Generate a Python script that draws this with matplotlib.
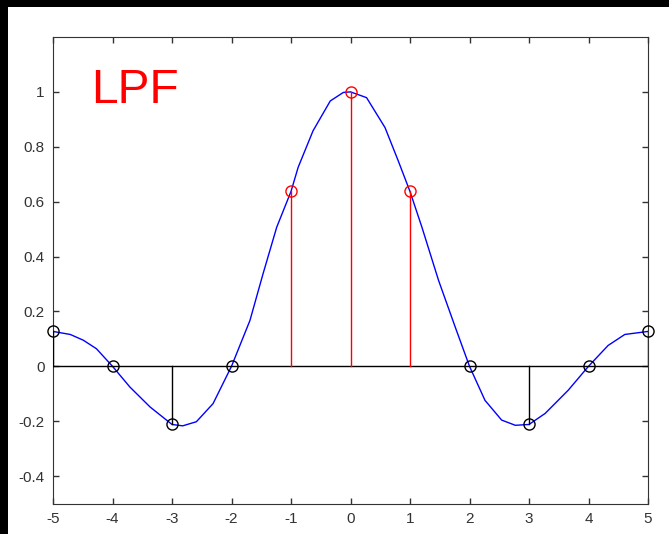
import matplotlib.pyplot as plt
from matplotlib.patches import Rectangle

# sample points (stems)
n = [-5, -4, -3, -2, -1, 0, 1, 2, 3, 4, 5]
h = [0.127, 0.0, -0.212, 0.0, 0.637, 1.0, 0.637, 0.0, -0.212, 0.0, 0.127]
passband = [-1, 0, 1]

# blue reconstructed curve
curve_x = [-5.0, -4.71, -4.49, -4.27, -4.0, -3.71, -3.37, -3.0, -2.82, -2.59,
           -2.31, -2.0, -1.69, -1.47, -1.24, -1.0, -0.88, -0.63, -0.34, -0.12,
           0.0, 0.27, 0.58, 0.80, 1.0, 1.20, 1.48, 1.76, 2.0, 2.26,
           2.54, 2.77, 3.0, 3.27, 3.66, 4.0, 4.33, 4.61, 5.0]
curve_y = [0.127, 0.116, 0.095, 0.064, 0.0, -0.075, -0.148, -0.212, -0.217, -0.202,
           -0.136, 0.0, 0.167, 0.337, 0.507, 0.637, 0.725, 0.858, 0.967, 0.998,
           1.0, 0.979, 0.87, 0.75, 0.637, 0.507, 0.313, 0.143, 0.0, -0.124,
           -0.196, -0.215, -0.212, -0.172, -0.087, 0.0, 0.076, 0.116, 0.127]

xticks = [-5, -4, -3, -2, -1, 0, 1, 2, 3, 4, 5]
yticks = [-0.4, -0.2, 0, 0.2, 0.4, 0.6, 0.8, 1]

plt.rcParams['font.family'] = ['Liberation Sans', 'DejaVu Sans']

fig = plt.figure(figsize=(6.69, 5.34), dpi=100, facecolor='white')
# black frame on the left and top edges
fig.patches.append(Rectangle((0, 0), 8 / 669, 1, transform=fig.transFigure,
                             facecolor='black', edgecolor='none', zorder=-5))
fig.patches.append(Rectangle((0, 527 / 534), 1, 7 / 534, transform=fig.transFigure,
                             facecolor='black', edgecolor='none', zorder=-5))
ax = fig.add_axes([53 / 669, 30.5 / 534, 595 / 669, 466.5 / 534])

ax.plot(curve_x, curve_y, color='#0000ff', lw=1, zorder=2)
ax.plot([-5, 5], [0, 0], color='black', lw=1, zorder=3)

for xi, yi in zip(n, h):
    c = 'red' if xi in passband else 'black'
    ax.plot([xi, xi], [0, yi], color=c, lw=1, zorder=3)
    ax.plot(xi, yi, 'o', mfc='none', mec=c, ms=8, mew=1, zorder=4, clip_on=False)

ax.text(-4.36, 0.96, 'LPF', color='red', fontsize=34.5, ha='left', va='baseline')

ax.set_xlim(-5, 5)
ax.set_ylim(-0.5, 1.2)
ax.set_xticks(xticks)
ax.set_yticks(yticks)
ax.set_xticklabels([str(v) for v in xticks])
ax.set_yticklabels(['-0.4', '-0.2', '0', '0.2', '0.4', '0.6', '0.8', '1'])
ax.tick_params(direction='in', length=4, width=1, top=True, right=True,
               labelsize=11, colors='#333333', pad=6)
for s in ax.spines.values():
    s.set_color('#333333')

fig.savefig('out.png', dpi=100)
